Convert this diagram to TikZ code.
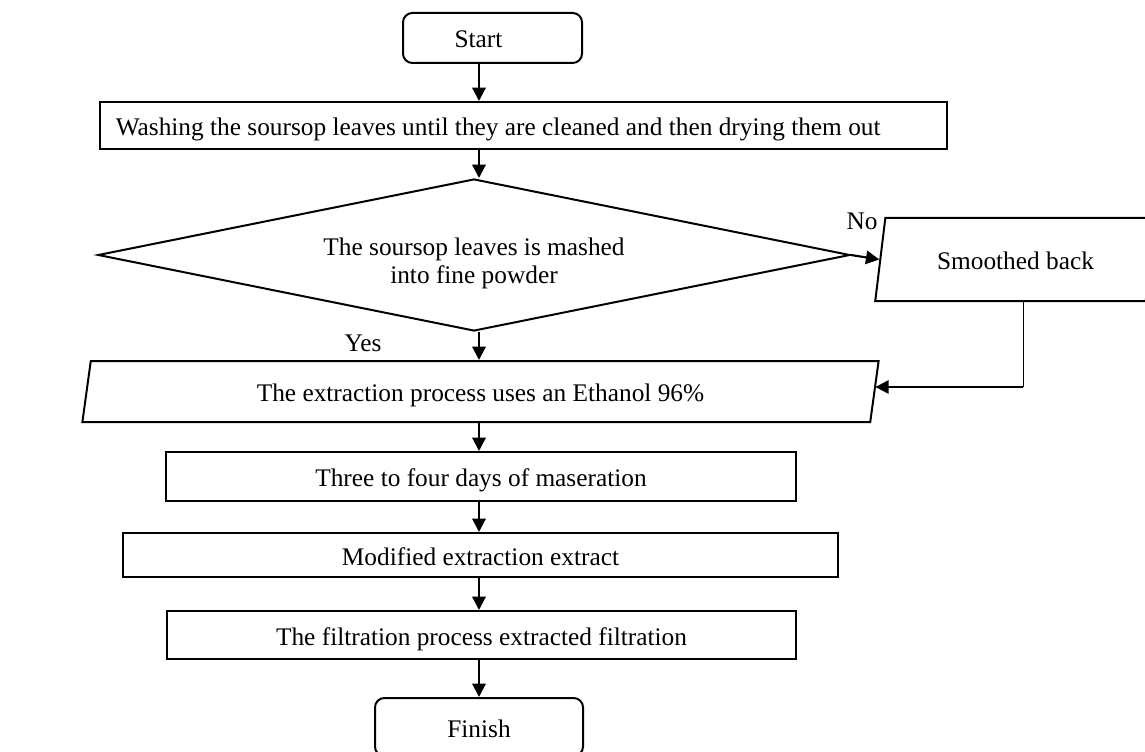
\documentclass[tikz,border=0pt]{standalone}
\usepackage{fontspec}
\setmainfont{Liberation Serif}
\usetikzlibrary{shapes.geometric,arrows.meta}

\tikzset{
	txt/.style={font=\fontsize{19}{21}\selectfont},
	procbox/.style={txt,draw,line width=1.5pt,inner sep=0pt,text height=16pt,text depth=1pt},
	termbox/.style={procbox,rounded corners=7pt},
	iobox/.style={procbox,trapezium,trapezium stretches=true},
	decbox/.style={txt,draw,line width=1.5pt,inner sep=0pt,diamond,aspect=5,align=center},
	arr/.style={line width=1.6pt,-{Triangle[length=10pt,width=10pt]}},
}
\newcommand{\dropdown}[2]{\raisebox{-#1}[\height][\depth]{#2}}

\begin{document}
\begin{tikzpicture}[x=0.75pt,y=0.75pt,yscale=-1,xscale=1]
	\useasboundingbox (0,0) rectangle (1145,752);
	\coordinate (spine) at (479,0);
	\coordinate (bend) at (1023,387);
	% boxes
	\node [termbox,minimum width=134.25pt,minimum height=37.5pt] (start) at (492.5,38) {\hspace*{-21pt}Start};
	\node [procbox,minimum width=635.25pt,minimum height=35.25pt] (wash) at (523.5,125.5) {\hspace*{-38pt}Washing the soursop leaves until they are cleaned and then drying them out};
	\node [decbox,minimum width=564pt,minimum height=114pt] (mash) at (474,255) {\dropdown{7pt}{\begin{tabular}{@{}c@{}}The soursop leaves is mashed\\into fine powder\end{tabular}}};
	\node [iobox,trapezium left angle=75,trapezium right angle=105,minimum width=210.75pt,minimum height=62.25pt] (smooth) at (1015.5,259.5) {Smoothed back};
	\node [iobox,trapezium left angle=78,trapezium right angle=102,minimum width=597.75pt,minimum height=45.75pt] (extract) at (480.5,391.5) {The extraction process uses an Ethanol 96\%};
	\node [procbox,minimum width=472.5pt,minimum height=36.75pt] (macer) at (481,476.5) {Three to four days of maseration};
	\node [procbox,minimum width=536.25pt,minimum height=33pt] (modif) at (480.5,555) {Modified extraction extract};
	\node [procbox,minimum width=471.75pt,minimum height=36pt] (filt) at (481.5,635) {The filtration process extracted filtration};
	\node [termbox,minimum width=156pt,minimum height=43.5pt] (finish) at (479,727) {Finish};
	% labels
	\node [txt] (yes) at (363,343) {Yes};
	\node [txt] (no) at (862,221) {No};
	% connectors
	\draw [arr] (start.south -| spine) -- (wash.north -| spine);
	\draw [arr] (wash.south -| spine) -- (mash.north -| spine);
	\draw [arr] (mash.east) -- (smooth.west);
	\draw [arr] (mash.south -| spine) -- (extract.north -| spine);
	\draw [line width=0.75pt] (smooth.south -| bend) -- (bend);
	\draw [arr] (bend) -- (bend -| extract.east);
	\draw [arr] (extract.south -| spine) -- (macer.north -| spine);
	\draw [arr] (macer.south -| spine) -- (modif.north -| spine);
	\draw [arr] (modif.south -| spine) -- (filt.north -| spine);
	\draw [arr] (filt.south -| spine) -- (finish.north -| spine);
\end{tikzpicture}
\end{document}
